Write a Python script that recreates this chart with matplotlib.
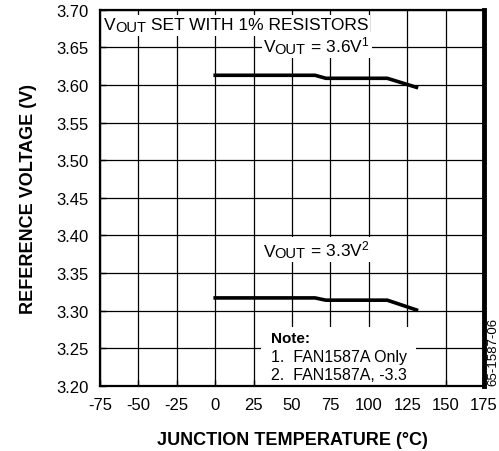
import matplotlib
matplotlib.use("Agg")
import matplotlib.pyplot as plt
from matplotlib.patches import Rectangle
from matplotlib.transforms import offset_copy, Bbox

plt.rcParams['font.family'] = ['Liberation Sans', 'DejaVu Sans']
plt.rcParams['mathtext.fontset'] = 'custom'
plt.rcParams['mathtext.rm'] = 'Liberation Sans'
plt.rcParams['mathtext.it'] = 'Liberation Sans'

# data
temp_36 = [0, 65, 72, 112, 131]
vref_36 = [3.613, 3.613, 3.609, 3.609, 3.597]
temp_33 = [0, 65, 72, 112, 131]
vref_33 = [3.317, 3.317, 3.314, 3.314, 3.301]

xticks = [-75, -50, -25, 0, 25, 50, 75, 100, 125, 150, 175]
yticks = [3.20, 3.25, 3.30, 3.35, 3.40, 3.45, 3.50, 3.55, 3.60, 3.65, 3.70]

fig = plt.figure(figsize=(4.99, 4.52), dpi=100)
ax = fig.add_axes([0.2004, 0.144, 0.7696, 0.832])

ax.set_xlim(-75, 175)
ax.set_ylim(3.20, 3.70)
ax.set_xticks(xticks)
ax.set_yticks(yticks)
ax.set_xticklabels([str(t) for t in xticks])
ax.set_yticklabels(['%.2f' % t for t in yticks])
ax.tick_params(direction='in', length=4, width=1, labelsize=12, pad=8)
ax.grid(True, color='black', linewidth=0.9)
ax.set_axisbelow(True)
for s in ['left', 'bottom', 'top']:
    ax.spines[s].set_linewidth(1.6)
ax.spines['right'].set_linewidth(3.5)

ax.plot(temp_36, vref_36, color='black', linewidth=2.6, zorder=3)
ax.plot(temp_33, vref_33, color='black', linewidth=2.6, zorder=3)

ax.set_xlabel('JUNCTION TEMPERATURE (°C)', fontsize=13, fontweight='bold', labelpad=14)
ax.set_ylabel('REFERENCE VOLTAGE (V)', fontsize=13, fontweight='bold', labelpad=14)

renderer = fig.canvas.get_renderer()


def vout_text(x, y, rest):
    # "V" + smaller "OUT" + rest, laid out piece by piece on a white patch
    t1 = ax.text(x, y, 'V', fontsize=12.5, va='baseline', ha='left', zorder=5)
    w1 = t1.get_window_extent(renderer).width - 0.5
    tr = offset_copy(ax.transData, fig=fig, x=w1, y=-1.5, units='dots')
    t2 = ax.text(x, y, 'OUT', fontsize=10.5, va='baseline', ha='left',
                 transform=tr, zorder=5)
    w2 = t2.get_window_extent(renderer).width
    tr2 = offset_copy(ax.transData, fig=fig, x=w1 + w2, y=0, units='dots')
    t3 = ax.text(x, y, rest, fontsize=12.5, va='baseline', ha='left',
                 transform=tr2, zorder=5)
    box = Bbox.union([t.get_window_extent(renderer) for t in (t1, t2, t3)])
    box = box.expanded(1.0, 1.0).padded(2)
    (x0, y0), (x1, y1) = ax.transData.inverted().transform(box.get_points())
    ax.add_patch(Rectangle((x0, y0), x1 - x0, y1 - y0, facecolor='white',
                           edgecolor='none', zorder=4))


vout_text(-72.5, 3.674, ' SET WITH 1% RESISTORS')
vout_text(31.5, 3.645, r' = 3.6V$^{1}$')
vout_text(31.5, 3.373, r' = 3.3V$^{2}$')

# note box
ax.add_patch(Rectangle((29.5, 3.20), 101, 0.078, facecolor='white',
                       edgecolor='none', zorder=2))
ax.text(36.5, 3.264, 'Note:', fontsize=11, fontweight='bold', va='center', zorder=4)
ax.text(36.5, 3.239, '1.  FAN1587A Only', fontsize=11.5, va='center', zorder=4)
ax.text(36.5, 3.215, '2.  FAN1587A, -3.3', fontsize=11.5, va='center', zorder=4)

fig.text(0.989, 0.222, '65-1587-06', rotation=90, fontsize=9.5,
         ha='center', va='center')

fig.savefig('out.png', dpi=100)
